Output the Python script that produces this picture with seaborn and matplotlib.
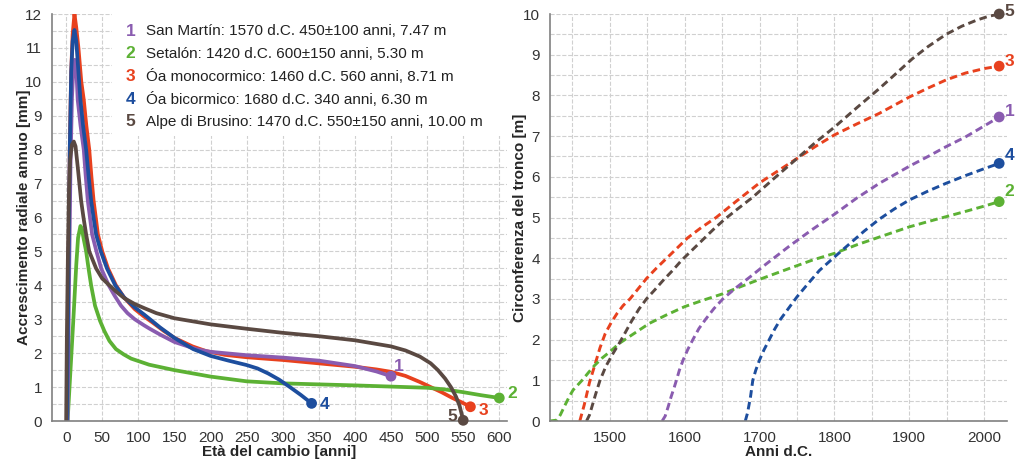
import numpy as np
import pandas as pd
import matplotlib.pyplot as plt
import seaborn as sns
from matplotlib.ticker import MultipleLocator, FuncFormatter
from matplotlib.patches import Rectangle

# Pannello sinistro: accrescimento radiale annuo [mm] vs eta del cambio [anni]
eta_1 = [2, 4, 6, 8, 10, 12, 14, 16, 20, 24.4, 27, 30, 33, 36, 42, 48.5, 59, 67, 76, 85, 95, 108, 115, 130, 150, 180, 200, 250, 300, 350, 400, 430, 450]
acc_1 = [0, 4.0, 7.5, 9.5, 10.4, 10.65, 10.4, 9.47, 8.7, 8.0, 7.25, 6.5, 6.0, 5.5, 5.0, 4.5, 4.0, 3.7, 3.4, 3.18, 3.0, 2.82, 2.73, 2.55, 2.33, 2.12, 2.04, 1.94, 1.87, 1.78, 1.62, 1.46, 1.32]

eta_2 = [2, 6, 10, 14, 16.5, 19.8, 22, 24, 27.7, 31, 34.6, 40, 47, 53, 60, 69, 80, 90, 115, 150, 200, 250, 300, 400, 500, 525, 550, 575, 600]
acc_2 = [0, 1.5, 3.0, 4.6, 5.4, 5.75, 5.65, 5.4, 5.0, 4.5, 4.0, 3.4, 2.95, 2.65, 2.36, 2.12, 1.96, 1.84, 1.66, 1.5, 1.31, 1.17, 1.11, 1.05, 0.98, 0.93, 0.85, 0.76, 0.68]

eta_3 = [1, 3, 5, 7, 9, 11.5, 14, 17, 21, 24.4, 28, 32, 35, 38, 41, 44, 50, 58, 69, 80, 95, 108, 120, 135, 150, 175, 194, 220, 250, 300, 350, 400, 430, 450, 470, 490, 505, 520, 535, 548, 560]
acc_3 = [0, 4.0, 8.0, 10.3, 11.4, 12.0, 11.6, 11.0, 10.0, 9.47, 8.7, 8.0, 7.2, 6.5, 6.0, 5.5, 5.0, 4.5, 4.0, 3.65, 3.3, 3.08, 2.9, 2.66, 2.45, 2.2, 2.06, 1.95, 1.88, 1.8, 1.7, 1.6, 1.52, 1.45, 1.33, 1.15, 1.0, 0.85, 0.68, 0.55, 0.42]

eta_4 = [1, 3, 5, 7, 9, 11.5, 14, 18, 19.8, 23.5, 27.7, 31, 34.6, 38, 41.5, 48, 56.5, 68, 80, 95, 108, 115, 130, 150, 176, 200, 225, 250, 265, 280, 295, 310, 325, 340]
acc_4 = [0, 4.0, 8.0, 10.3, 11.2, 11.53, 11.2, 10.0, 9.47, 8.7, 8.0, 7.25, 6.5, 6.0, 5.5, 5.0, 4.5, 4.0, 3.65, 3.35, 3.14, 3.02, 2.76, 2.45, 2.12, 1.92, 1.78, 1.65, 1.55, 1.4, 1.22, 1.0, 0.77, 0.52]

eta_5 = [0, 1, 2.5, 4, 5.5, 8, 10.6, 13, 16, 20.7, 24, 27.7, 32, 41.5, 50, 60, 70, 80.7, 95, 108, 125, 150, 200, 250, 300, 350, 400, 450, 470, 490, 505, 515, 525, 533, 540, 545, 550]
acc_5 = [0, 2.5, 5.0, 6.8, 7.7, 8.15, 8.24, 8.1, 7.5, 6.5, 6.0, 5.5, 5.0, 4.5, 4.2, 4.0, 3.8, 3.62, 3.45, 3.33, 3.18, 3.03, 2.85, 2.72, 2.6, 2.5, 2.38, 2.2, 2.08, 1.9, 1.7, 1.5, 1.25, 1.0, 0.72, 0.45, 0.02]

# Pannello destro: circonferenza del tronco [m] vs anni d.C.
anni_1 = [1570, 1574, 1578, 1582, 1586, 1589, 1593, 1598, 1604, 1611, 1619, 1628, 1639, 1651, 1669, 1688, 1709, 1740, 1770, 1800, 1830, 1860, 1880, 1900, 1925, 1949, 1975, 2000, 2020]
circ_1 = [0, 0.12, 0.35, 0.6, 0.82, 1.0, 1.25, 1.5, 1.75, 2.0, 2.27, 2.5, 2.76, 3.0, 3.28, 3.55, 3.86, 4.3, 4.7, 5.08, 5.48, 5.84, 6.05, 6.26, 6.5, 6.74, 6.98, 7.25, 7.47]

anni_2 = [1420, 1429, 1434, 1440, 1446, 1451, 1458, 1464, 1472, 1480, 1490, 1500, 1513, 1530, 1553, 1575, 1600, 1625, 1650, 1669, 1700, 1740, 1770, 1800, 1830, 1860, 1900, 1925, 1949, 1975, 2000, 2020]
circ_2 = [0, 0.02, 0.15, 0.38, 0.6, 0.76, 0.9, 1.02, 1.2, 1.37, 1.55, 1.7, 1.91, 2.12, 2.4, 2.6, 2.81, 2.97, 3.12, 3.26, 3.48, 3.75, 3.95, 4.12, 4.33, 4.52, 4.77, 4.9, 5.02, 5.15, 5.28, 5.39]

anni_3 = [1460, 1466, 1473, 1480, 1487, 1494, 1502, 1510, 1518, 1527, 1538, 1549, 1562, 1576, 1590, 1604, 1622, 1642, 1669, 1700, 1725, 1750, 1775, 1800, 1830, 1860, 1880, 1900, 1925, 1949, 1975, 2000, 2020]
circ_3 = [0, 0.4, 0.95, 1.37, 1.8, 2.15, 2.42, 2.65, 2.84, 3.0, 3.25, 3.5, 3.75, 4.0, 4.25, 4.5, 4.75, 5.0, 5.4, 5.85, 6.15, 6.45, 6.75, 7.03, 7.3, 7.56, 7.76, 7.96, 8.18, 8.38, 8.55, 8.66, 8.72]

anni_4 = [1681, 1684, 1688, 1691, 1695, 1700, 1706, 1713, 1720, 1728, 1740, 1750, 1765, 1780, 1800, 1820, 1840, 1860, 1880, 1900, 1925, 1949, 1975, 2000, 2020]
circ_4 = [0, 0.2, 0.6, 1.0, 1.25, 1.5, 1.75, 2.0, 2.25, 2.5, 2.8, 3.05, 3.38, 3.7, 4.03, 4.35, 4.67, 4.96, 5.21, 5.43, 5.65, 5.84, 6.03, 6.2, 6.33]

anni_5 = [1469, 1473, 1477, 1481, 1487, 1495, 1505, 1513, 1520, 1529, 1539, 1549, 1560, 1571, 1584, 1596, 1610, 1624, 1638, 1653, 1670, 1691, 1720, 1750, 1775, 1800, 1830, 1860, 1880, 1904, 1925, 1949, 1970, 1990, 2005, 2020]
circ_5 = [0, 0.15, 0.4, 0.65, 1.0, 1.35, 1.68, 1.92, 2.15, 2.45, 2.75, 3.0, 3.22, 3.45, 3.7, 3.95, 4.2, 4.45, 4.7, 4.95, 5.2, 5.5, 5.97, 6.45, 6.85, 7.22, 7.7, 8.17, 8.5, 8.9, 9.2, 9.5, 9.7, 9.85, 9.94, 10.0]

serie = ["1", "2", "3", "4", "5"]
nomi = [
    "San Martín: 1570 d.C. 450±100 anni, 7.47 m",
    "Setalón: 1420 d.C. 600±150 anni, 5.30 m",
    "Óa monocormico: 1460 d.C. 560 anni, 8.71 m",
    "Óa bicormico: 1680 d.C. 340 anni, 6.30 m",
    "Alpe di Brusino: 1470 d.C. 550±150 anni, 10.00 m",
]
colori = {"1": "#8a5cb0", "2": "#5cb134", "3": "#e8411e", "4": "#1d4e9e", "5": "#5a4942"}
ordine = ["3", "2", "1", "4", "5"]

eta = [eta_1, eta_2, eta_3, eta_4, eta_5]
acc = [acc_1, acc_2, acc_3, acc_4, acc_5]
anni = [anni_1, anni_2, anni_3, anni_4, anni_5]
circ = [circ_1, circ_2, circ_3, circ_4, circ_5]

df_sx = pd.concat([pd.DataFrame({"eta": e, "acc": a, "serie": s}) for s, e, a in zip(serie, eta, acc)])
df_dx = pd.concat([pd.DataFrame({"anno": t, "circ": c, "serie": s}) for s, t, c in zip(serie, anni, circ)])
fine_sx = df_sx.groupby("serie").tail(1)
fine_dx = df_dx.groupby("serie").tail(1)

sns.set_style("white")
plt.rcParams["font.family"] = ["Liberation Sans", "DejaVu Sans"]
grigio = "#808080"

fig = plt.figure(figsize=(10.22, 4.63), dpi=100)
ax1 = fig.add_axes([0.0506, 0.0907, 0.445, 0.879])
ax2 = fig.add_axes([0.538, 0.0907, 0.447, 0.879])

# --- pannello sinistro
sns.lineplot(data=df_sx, x="eta", y="acc", hue="serie", hue_order=ordine, palette=colori,
             sort=False, estimator=None, linewidth=2.7, legend=False, ax=ax1)
sns.scatterplot(data=fine_sx, x="eta", y="acc", hue="serie", palette=colori, s=60,
                edgecolor="none", legend=False, ax=ax1, zorder=5, clip_on=False)

# etichette numeriche accanto al punto finale (offset in punti)
off_sx = {"1": (2, 7), "2": (6, 3), "3": (6, -3), "4": (6, -1), "5": (-11, 3)}
for _, r in fine_sx.iterrows():
    dx, dy = off_sx[r["serie"]]
    ax1.annotate(r["serie"], (r["eta"], r["acc"]), xytext=(dx, dy), textcoords="offset points",
                 color=colori[r["serie"]], fontsize=12.5, fontweight="bold",
                 ha="left", va="center", annotation_clip=False)

ax1.set_xlim(-20, 610)
ax1.set_ylim(0, 12)
ax1.xaxis.set_major_locator(MultipleLocator(50))
ax1.xaxis.set_minor_locator(MultipleLocator(10))
ax1.yaxis.set_major_locator(MultipleLocator(1))
ax1.yaxis.set_minor_locator(MultipleLocator(0.5))
ax1.set_xlabel("Età del cambio [anni]", fontsize=11, fontweight="bold", labelpad=0)
ax1.set_ylabel("Accrescimento radiale annuo [mm]", fontsize=11, fontweight="bold", labelpad=-4)

# riquadro bianco della legenda
ax1.add_patch(Rectangle((0.133, 0.70), 0.87, 0.30, transform=ax1.transAxes,
                        facecolor="white", edgecolor="none", zorder=1))
for i, (s, n) in enumerate(zip(serie, nomi)):
    yy = 0.958 - i * 0.0557
    ax1.text(0.163, yy, s, transform=ax1.transAxes, color=colori[s], fontsize=12.5,
             fontweight="bold", va="center", zorder=6)
    ax1.text(0.207, yy, n, transform=ax1.transAxes, color="#222222", fontsize=11,
             va="center", zorder=6)

# --- pannello destro
sns.lineplot(data=df_dx, x="anno", y="circ", hue="serie", hue_order=ordine, palette=colori,
             style="serie", dashes={s: (2.6, 1.5) for s in serie}, sort=False, estimator=None,
             linewidth=2.1, legend=False, ax=ax2)
sns.scatterplot(data=fine_dx, x="anno", y="circ", hue="serie", palette=colori, s=60,
                edgecolor="none", legend=False, ax=ax2, zorder=5, clip_on=False)
off_dx = {"1": 4, "2": 7, "3": 3, "4": 6, "5": 1.5}
for _, r in fine_dx.iterrows():
    ax2.annotate(r["serie"], (r["anno"], r["circ"]), xytext=(4, off_dx[r["serie"]]),
                 textcoords="offset points", color=colori[r["serie"]], fontsize=12.5,
                 fontweight="bold", ha="left", va="center", annotation_clip=False)

ax2.set_xlim(1420, 2030)
ax2.set_ylim(0, 10)
ax2.xaxis.set_major_locator(MultipleLocator(50))
ax2.xaxis.set_minor_locator(MultipleLocator(10))
ax2.xaxis.set_major_formatter(FuncFormatter(lambda v, p: f"{int(v)}" if v % 100 == 0 else ""))
ax2.yaxis.set_major_locator(MultipleLocator(1))
ax2.yaxis.set_minor_locator(MultipleLocator(0.5))
ax2.set_xlabel("Anni d.C.", fontsize=11, fontweight="bold", labelpad=0)
ax2.set_ylabel("Circonferenza del tronco [m]", fontsize=11, fontweight="bold", labelpad=-3)

for ax in (ax1, ax2):
    ax.set_axisbelow(True)
    ax.grid(which="major", axis="x", color="#d0d0d0", linestyle="--", linewidth=0.8)
    ax.grid(which="both", axis="y", color="#d0d0d0", linestyle="--", linewidth=0.8)
    for lato in ("top", "right"):
        ax.spines[lato].set_visible(False)
    for lato in ("left", "bottom"):
        ax.spines[lato].set_color(grigio)
        ax.spines[lato].set_linewidth(1.2)
    ax.tick_params(which="major", direction="out", length=5, width=1.1, color=grigio,
                   labelsize=11, labelcolor="#333333", pad=2)
    ax.tick_params(axis="x", which="minor", direction="out", length=3, width=1, color=grigio)
    ax.tick_params(axis="y", which="minor", length=0)

fig.savefig("out.png", dpi=100)
